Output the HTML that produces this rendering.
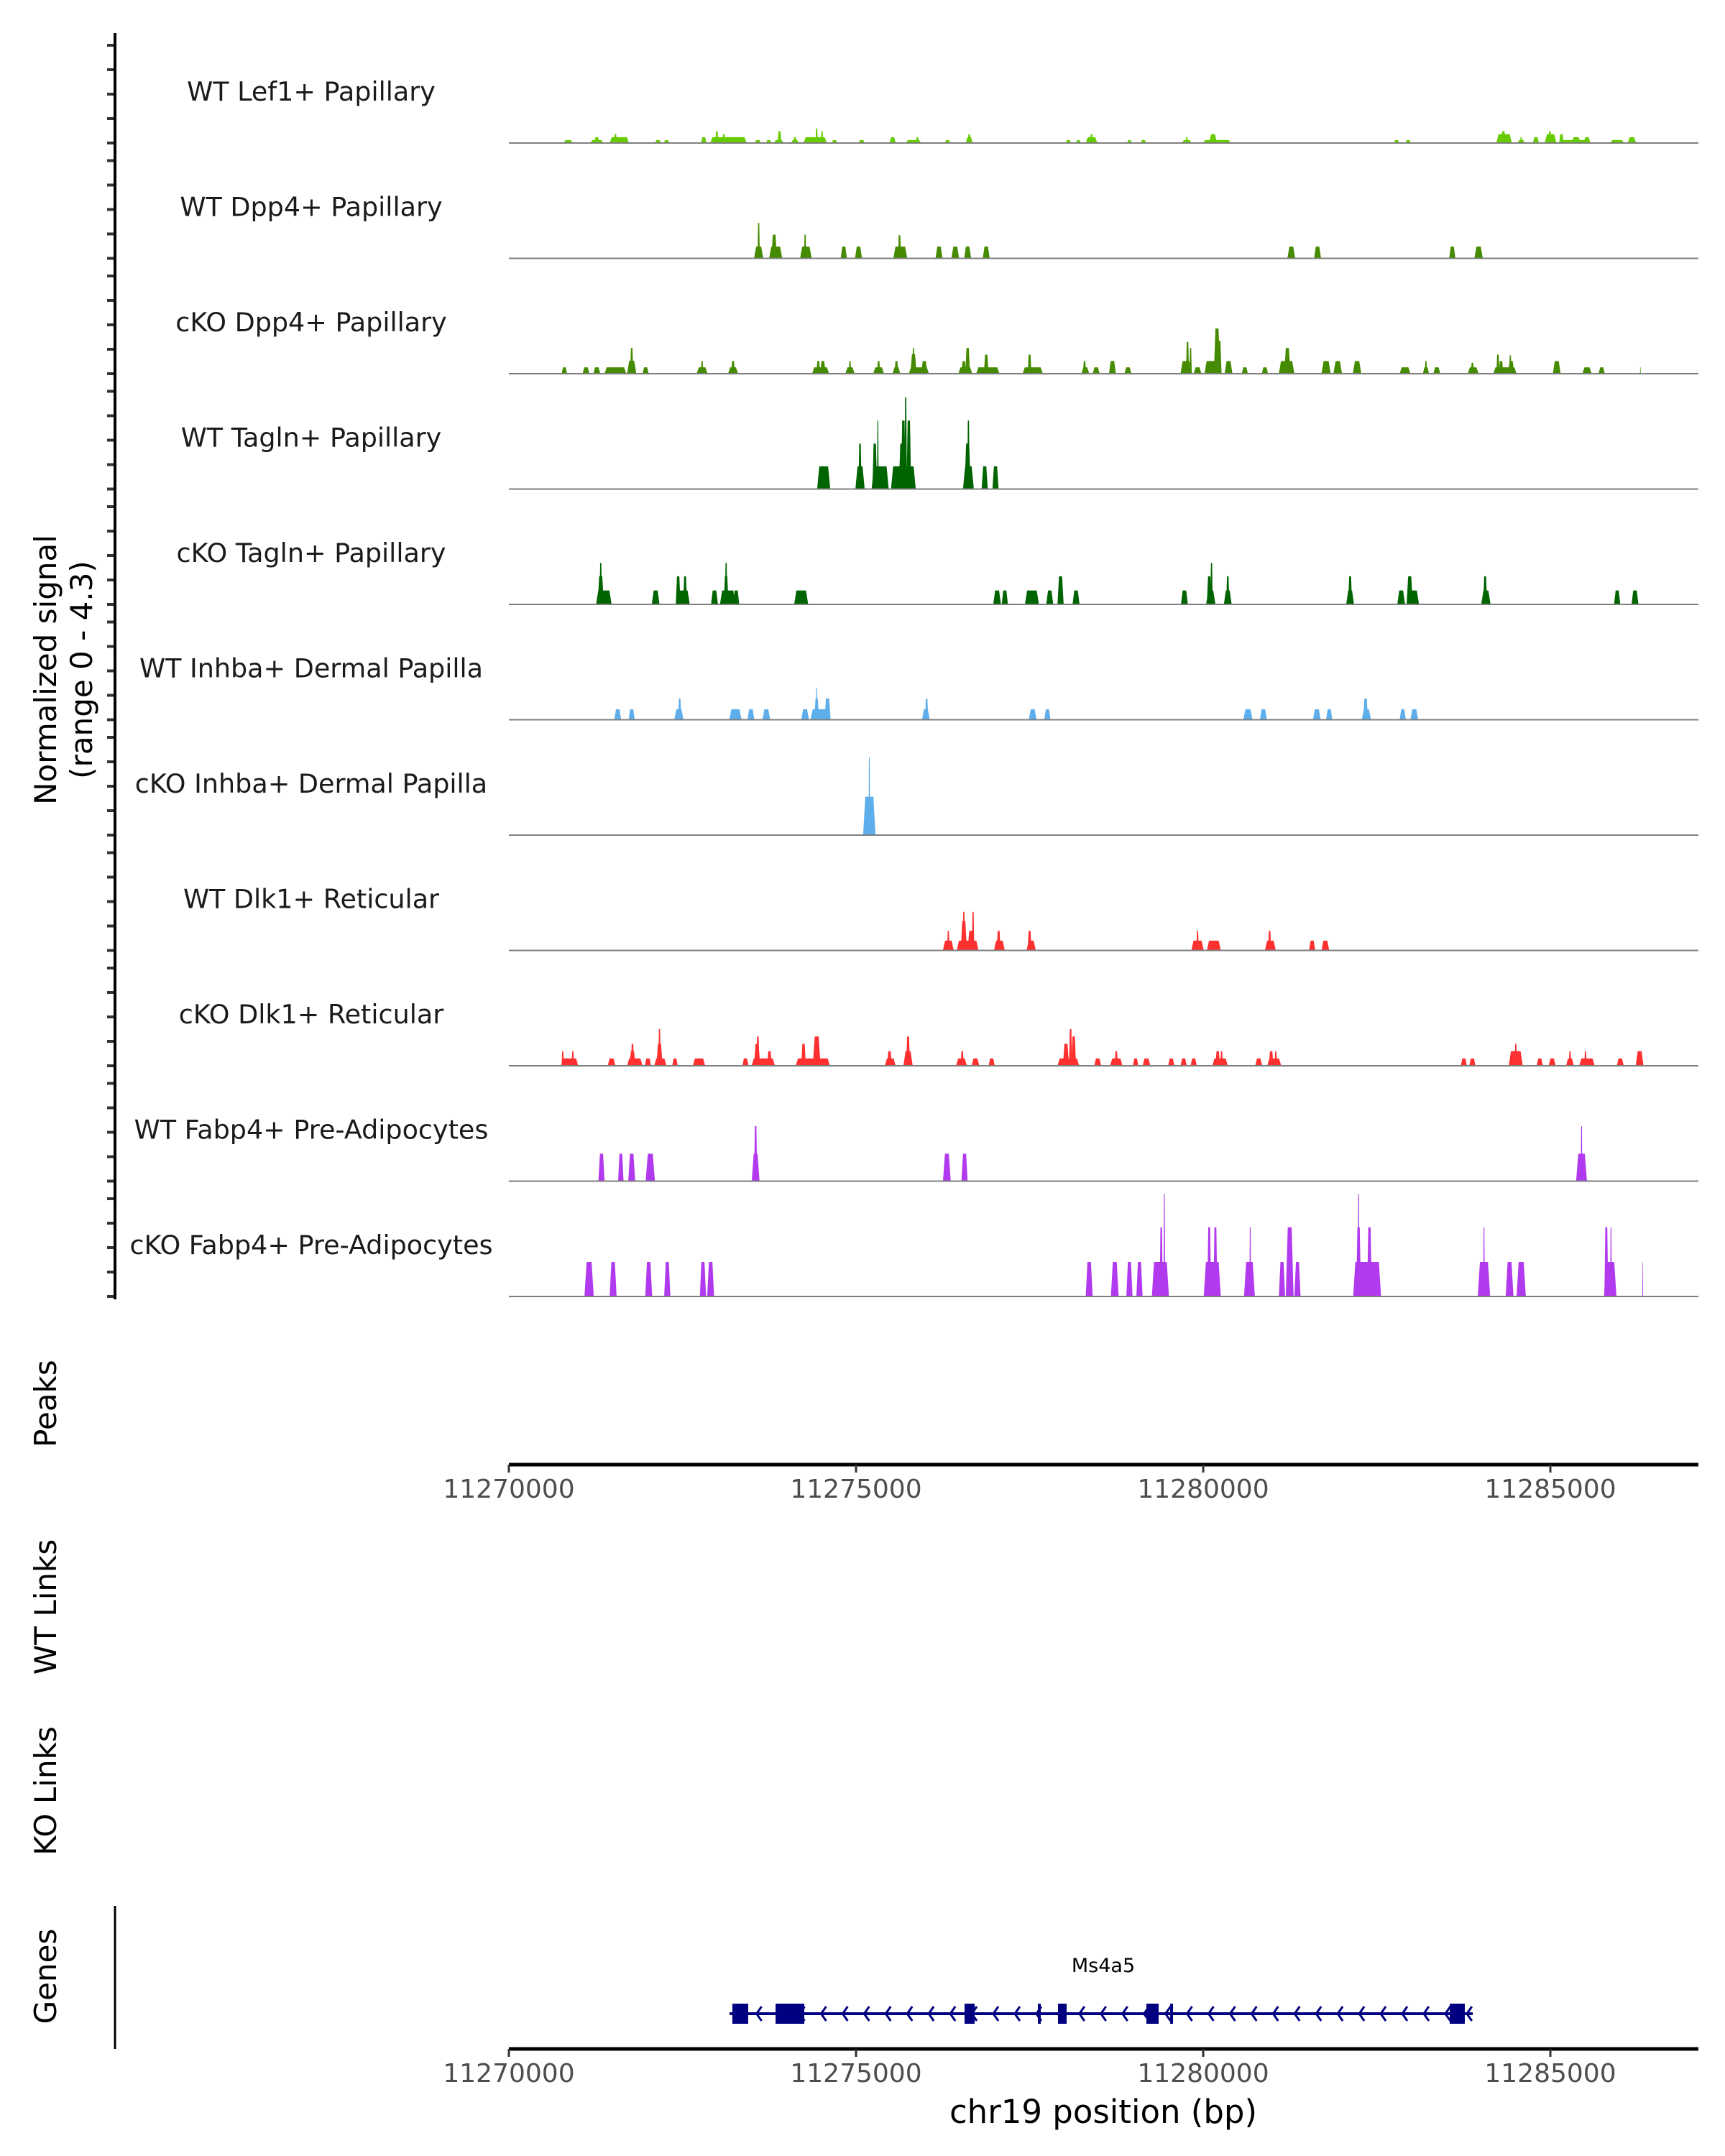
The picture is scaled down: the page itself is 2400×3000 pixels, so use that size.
<!DOCTYPE html>
<html><head><meta charset="utf-8"><style>
html,body{margin:0;padding:0;background:#fff;}
svg{display:block;font-family:"DejaVu Sans","Liberation Sans",sans-serif;}
</style></head><body>
<svg id="fig" width="2400" height="3000" viewBox="0 0 2400 3000" xmlns="http://www.w3.org/2000/svg">
<rect x="0" y="0" width="2400" height="3000" fill="#fff"/>
<g id="tracks"></g>
<g id="axes"></g>
<g id="genes"></g>
</svg>
<script>
// region & scales
const regionStart = 11270000;
const tickLabels = ["11270000","11275000","11280000","11285000"];
const tickValues = [0, 5000, 10000, 15000];
const trackNames = ["WT Lef1+ Papillary","WT Dpp4+ Papillary","cKO Dpp4+ Papillary","WT Tagln+ Papillary","cKO Tagln+ Papillary","WT Inhba+ Dermal Papilla","cKO Inhba+ Dermal Papilla","WT Dlk1+ Reticular","cKO Dlk1+ Reticular","WT Fabp4+ Pre-Adipocytes","cKO Fabp4+ Pre-Adipocytes"];
const trackColors = ["#66cc00","#458b00","#458b00","#006400","#006400","#5daeeb","#5daeeb","#ff3030","#ff3030","#b23aee","#b23aee"];
// peaks: [center (reading units, ~bp offset), width, value]
const wtLef1 = [[862,135,.12],[1278,191,.12],[1278,79,.24],[1605,281,.24],[1548,45,.36],[2167,90,.12],[2291,79,.12],[2831,79,.24],[3191,529,.24],[3022,45,.48],[3123,45,.36],[3618,90,.12],[3776,79,.12],[3922,146,.12],[3933,56,.48],[4158,124,.12],[4158,45,.24],[4451,338,.24],[4473,34,.6],[4552,34,.48],[4732,79,.12],[5126,90,.12],[5576,90,.24],[5880,225,.12],[5936,45,.24],[6375,79,.12],[6690,101,.24],[6690,45,.36],[8130,79,.12],[8276,68,.12],[8467,169,.24],[8467,45,.36],[9018,68,.12],[9221,79,.12],[9851,146,.12],[9851,34,.24],[10290,405,.12],[10233,113,.36],[12900,79,.12],[13068,79,.12],[14463,225,.36],[14452,68,.48],[14711,113,.12],[14711,34,.24],[14925,90,.24],[15138,169,.36],[15127,45,.48],[15296,68,.36],[15498,450,.12],[15509,135,.24],[15667,101,.24],[16106,203,.12],[16320,124,.24]];
const wtDpp4 = [[3630,135,.48],[3630,34,1.45],[3877,191,.48],[3855,79,.97],[4316,169,.48],[4305,34,.97],[4867,90,.48],[5081,101,.48],[5688,203,.48],[5677,45,.95],[6251,101,.48],[6487,113,.48],[6667,101,.48],[6937,101,.48],[11370,113,.48],[11752,101,.48],[13710,90,.48],[14092,124,.48]];
const koDpp4 = [[806,79,.26],[1121,101,.26],[1278,101,.26],[1548,315,.26],[1785,135,.53],[1785,45,1.05],[1987,90,.26],[2808,158,.26],[2808,34,.52],[3258,146,.26],[3258,56,.52],[4530,248,.26],[4496,56,.52],[4563,79,.52],[4957,135,.26],[4957,34,.52],[5373,158,.26],[5373,45,.52],[5632,113,.26],[5632,56,.52],[5958,293,.26],[5880,90,.8],[5880,34,1.05],[6037,90,.52],[6633,203,.26],[6611,68,.52],[6667,68,1.05],[6960,338,.26],[6937,68,.78],[7612,293,.26],[7567,56,.78],[8377,113,.26],[8366,45,.52],[8535,101,.26],[8771,101,.52],[8996,101,.26],[9839,158,.52],[9862,45,1.3],[9907,34,1.05],[10008,113,.26],[10233,248,.52],[10290,90,1.85],[10323,68,1.35],[10458,113,.52],[10695,90,.26],[10987,90,.26],[11302,225,.52],[11313,90,1.05],[11876,135,.52],[12045,124,.52],[12326,124,.52],[13023,158,.26],[13327,34,.52],[13327,90,.26],[13485,101,.26],[14013,158,.26],[14002,45,.45],[14475,338,.26],[14373,45,.78],[14418,68,.52],[14565,90,.52],[14553,34,.75],[15228,113,.52],[15667,135,.26],[15881,90,.26],[16443,11,.26]];
const wtTagln = [[4575,191,.93],[5103,135,.93],[5103,45,1.86],[5396,248,.93],[5317,68,1.86],[5362,23,2.8],[5733,360,.93],[5711,90,1.86],[5733,68,2.8],[5767,34,3.75],[5812,68,2.8],[6678,158,.93],[6667,90,1.86],[6678,34,2.8],[6915,90,.93],[7072,90,.93]];
const koTagln = [[1380,225,.57],[1335,90,1.15],[1335,34,1.7],[2133,113,.57],[2527,203,.57],[2460,68,1.15],[2561,56,1.15],[2988,101,.57],[3180,225,.57],[3157,68,1.15],[3157,34,1.7],[3303,90,.57],[4248,203,.57],[7095,113,.57],[7207,90,.57],[7601,203,.57],[7860,101,.57],[8017,90,1.15],[8242,101,.57],[9817,101,.57],[10200,135,.57],[10177,68,1.15],[10211,34,1.7],[10447,113,.57],[10447,45,1.15],[12225,113,.57],[12225,56,1.15],[12967,113,.57],[13136,180,.57],[13091,90,1.15],[14198,135,.57],[14187,56,1.15],[16106,90,.57],[16365,101,.57]];
const wtInhba = [[1582,101,.43],[1785,90,.43],[2471,135,.43],[2482,45,.87],[3292,180,.43],[3517,101,.43],[3742,113,.43],[4305,113,.43],[4530,293,.43],[4473,68,.87],[4473,23,1.3],[4631,90,.87],[6060,113,.43],[6071,45,.87],[7612,113,.43],[7826,90,.43],[10740,135,.43],[10965,101,.43],[11741,113,.43],[11921,90,.43],[12461,135,.43],[12450,68,.87],[12990,90,.43],[13158,113,.43]];
const koInhba = [[5238,180,1.57],[5238,23,3.17]];
const wtDlk1 = [[6386,158,.4],[6386,34,.8],[6667,315,.4],[6611,90,1.2],[6611,34,1.58],[6746,34,1.58],[6712,90,.8],[7128,158,.4],[7117,56,.8],[7590,135,.4],[7567,56,.8],[10008,180,.4],[10008,34,.8],[10245,203,.4],[11066,158,.4],[11055,45,.8],[11673,90,.4],[11865,113,.4]];
const koDlk1 = [[884,248,.3],[783,34,.6],[929,34,.6],[1492,113,.3],[1830,225,.3],[1796,90,.6],[1796,45,.9],[2021,90,.3],[2201,180,.3],[2189,90,.9],[2189,34,1.5],[2414,79,.3],[2763,180,.3],[3438,90,.3],[3697,338,.3],[3607,90,.9],[3618,45,1.2],[3787,68,.6],[4417,495,.3],[4282,68,.9],[4473,113,1.2],[5542,158,.3],[5531,68,.6],[5801,135,.6],[5801,56,1.2],[6577,158,.3],[6588,45,.6],[6780,113,.3],[7016,90,.3],[8130,315,.3],[8096,90,.9],[8163,45,1.5],[8208,68,1.2],[8557,101,.3],[8827,180,.3],[8827,45,.6],[9108,79,.3],[9266,113,.3],[9626,90,.3],[9806,90,.3],[9952,90,.3],[10335,225,.3],[10301,68,.6],[10357,34,.6],[10897,101,.3],[11122,203,.3],[11077,68,.6],[11145,34,.6],[13878,90,.3],[14002,90,.3],[14632,203,.6],[14632,34,.9],[14981,90,.3],[15161,101,.3],[15420,113,.3],[15420,34,.6],[15667,225,.3],[15645,34,.6],[16151,101,.3],[16432,113,.6]];
const wtFabp4 = [[1346,90,1.12],[1627,79,1.12],[1785,101,1.12],[2055,135,1.12],[3586,113,1.12],[3586,45,2.25],[6365,113,1.12],[6622,90,1.12],[15588,158,1.12],[15588,23,2.25]];
const koFabp4 = [[1166,135,1.41],[1515,101,1.41],[2032,101,1.41],[2302,90,1.41],[2820,90,1.41],[2932,101,1.41],[8433,101,1.41],[8805,113,1.41],[9018,90,1.41],[9164,90,1.41],[9468,248,1.41],[9480,45,2.83],[9525,23,4.2],[10222,248,1.41],[10177,56,2.83],[10267,56,2.83],[10762,158,1.41],[10773,23,2.83],[11235,90,1.41],[11347,113,2.83],[11460,90,1.41],[12472,405,1.41],[12348,68,2.83],[12348,23,4.2],[12506,68,2.83],[14170,180,1.41],[14170,23,2.83],[14542,113,1.41],[14711,135,1.41],[16005,180,1.41],[15948,56,2.83],[16016,23,2.83],[16477,11,1.41]];
const trackData = [wtLef1,wtDpp4,koDpp4,wtTagln,koTagln,wtInhba,koInhba,wtDlk1,koDlk1,wtFabp4,koFabp4];
// calibration of the reading units to bp
const readingToBp = 0.9911;
const geneStart = 3178, geneEnd = 13882;
const exonStarts = [3219,3841,6563,7909,9182,13551];
const exonEnds = [3447,4255,6708,8033,9358,13768];
const exonMarks = [7640,9545];

const NS="http://www.w3.org/2000/svg";
const X0=708, PXPERBP=483/5000, TOP0=199, TRACKH=160.5, PXPERUNIT=34;
function xs(off){return X0+off*PXPERBP;}
function ys(i,v){return TOP0+i*TRACKH - v*PXPERUNIT;}
function mk(tag,attrs,parent){const e=document.createElementNS(NS,tag);for(const k in attrs)e.setAttribute(k,attrs[k]);parent.appendChild(e);return e;}
const tracks=document.getElementById('tracks'), axes=document.getElementById('axes'), genes=document.getElementById('genes');

trackNames.forEach((name,i)=>{
  const base=ys(i,0);
  const g=mk('g',{},tracks);
  
  
  const lab=mk('text',{x:433,y:base-59,'font-size':36.5,'text-anchor':'middle',fill:'#1a1a1a'},g);
  lab.textContent=name;
  
  
  trackData[i].forEach(p=>{
    const c=p[0]*readingToBp, w=p[1]*readingToBp;
    const x0=xs(c-w/2), x1=xs(c+w/2), top=ys(i,p[2]);
    const s=Math.min((x1-x0)*0.25,3);
    const poly=mk('polygon',{points:`${x0},${base} ${x0+s},${top} ${x1-s},${top} ${x1},${base}`,fill:trackColors[i]},g);
    
    
  });
  const bl=mk('line',{x1:X0,x2:2363,y1:base,y2:base,stroke:'#7f7f7f','stroke-width':2},g);
  
  
  for(let k=0;k<5;k++){
    const ty=ys(i,k);
    const t=mk('line',{x1:149,x2:160,y1:ty,y2:ty,stroke:'#333','stroke-width':4},axes);
    
    
  }
});
// left axis
const ya=mk('line',{x1:160,x2:160,y1:46,y2:1808,stroke:'#000','stroke-width':4},axes);


function vtext(txt,x,y,name,size){
  const t=mk('text',{x:x,y:y,'font-size':size,'text-anchor':'middle',fill:'#000',transform:`rotate(-90 ${x} ${y})`},axes);
  t.textContent=txt;
  
  
}
vtext('Normalized signal',78,932,'y-axis-title',42);
vtext('(range 0 - 4.3)',128,932,'y-axis-subtitle',42);
vtext('Peaks',78,1953,'peaks-label',42);
vtext('WT Links',78,2236,'wt-links-label',42);
vtext('KO Links',78,2492,'ko-links-label',42);
vtext('Genes',78,2750,'genes-label',42);
// x axes
function xaxis(y,name){
  const l=mk('line',{x1:X0,x2:2363,y1:y,y2:y,stroke:'#000','stroke-width':5},axes);
  
  
  tickValues.forEach((v,j)=>{
    const x=xs(v);
    const t=mk('line',{x1:x,x2:x,y1:y,y2:y+11,stroke:'#333','stroke-width':3},axes);
    
    
    const tl=mk('text',{x:x,y:y+46,'font-size':36,'text-anchor':'middle',fill:'#4d4d4d'},axes);
    tl.textContent=tickLabels[j];
    
    
  });
}
xaxis(2038,'peaks-x-axis');
xaxis(2851,'genes-x-axis');
const xt=mk('text',{x:1535,y:2954,'font-size':45,'text-anchor':'middle',fill:'#000'},axes);
xt.textContent='chr19 position (bp)';


const ga=mk('line',{x1:160,x2:160,y1:2652,y2:2851,stroke:'#000','stroke-width':3},axes);


// gene model
const GY=2802;
const gl=mk('line',{x1:xs(geneStart),x2:xs(geneEnd),y1:GY,y2:GY,stroke:'#000080','stroke-width':4},genes);


for(let b=geneStart+100;b<geneEnd;b+=310){
  const x=xs(b);
  const c=mk('polyline',{points:`${x+5},${GY-10} ${x-2},${GY} ${x+5},${GY+10}`,fill:'none',stroke:'#000080','stroke-width':3},genes);
  
  
}
exonStarts.forEach((s,j)=>{
  const r=mk('rect',{x:xs(s),y:GY-14,width:xs(exonEnds[j])-xs(s),height:28,fill:'#000080'},genes);
  
  
});
exonMarks.forEach(s=>{
  const r=mk('rect',{x:xs(s)-2,y:GY-14,width:4,height:28,fill:'#000080'},genes);
  
  
});
const gn=mk('text',{x:1535,y:2744,'font-size':27,'text-anchor':'middle',fill:'#000'},genes);
gn.textContent='Ms4a5';


</script>
</body></html>
